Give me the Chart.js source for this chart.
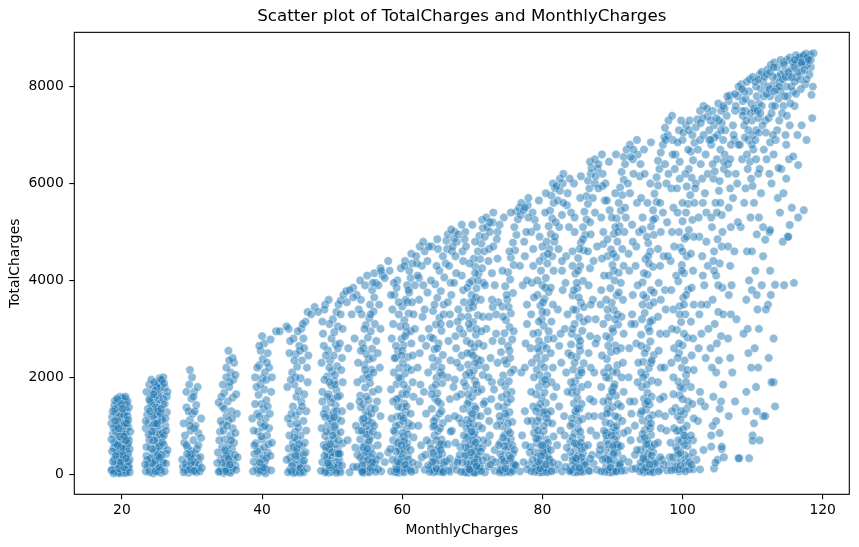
<!DOCTYPE html>
<html>
<head>
<meta charset="utf-8">
<script src="https://cdn.jsdelivr.net/npm/chart.js@4.4.1/dist/chart.umd.min.js"></script>
<style>
  html, body { margin: 0; padding: 0; background: #fff; }
  #wrap { width: 859px; height: 547px; position: relative; }
</style>
</head>
<body>
<div id="wrap"><canvas id="mycanvas"></canvas></div>
<script>
// MonthlyCharges, TotalCharges pairs, grouped by price band
var band20 = [19.7,20, 20.0,45, 19.4,70, 20.3,25, 19.9,100, 20.6,60, 19.2,140, 20.1,160, 19.6,210, 20.4,230, 19.8,290, 20.9,120, 19.3,330, 20.2,370, 19.5,420, 20.7,400, 19.9,480, 20.5,510, 19.1,560, 20.0,600, 19.7,650, 20.4,690, 19.4,740, 20.8,760, 19.9,800, 20.2,850, 19.6,900, 20.6,940, 19.3,980, 20.0,1020, 19.8,1070, 20.5,1100, 19.5,1150, 20.3,1190, 19.9,1240, 20.1,1280, 19.6,1320, 20.4,1360, 19.8,1400, 20.2,1440, 19.7,1480, 20.0,1520, 20.5,1550, 19.4,1500, 18.8,540, 18.5,1050, 18.9,320, 21.0,700, 21.1,300, 18.7,830, 19.2,1260, 20.7,1300, 20.9,980, 19.0,60, 20.8,180, 19.5,250, 20.3,450, 19.2,620, 20.1,720, 19.6,1190, 20.6,1450, 19.3,1380, 20.0,880, 19.8,35, 20.4,90, 19.1,880, 20.7,580, 19.7,390, 20.2,1000, 19.4,1100, 20.0,300, 19.9,560, 20.5,820, 19.3,470, 20.3,1230, 19.7,1600, 20.1,1580, 19.5,30, 20.6,30, 19.0,200, 20.9,430, 19.2,1000, 20.8,1200, 19.6,780, 20.4,1050, 19.0,1330, 20.7,1050, 18.6,100, 21.0,150, 19.8,180, 20.2,530];
var band25 = [24.5,20, 25.1,50, 24.0,80, 25.6,30, 24.8,120, 25.3,170, 23.9,220, 24.6,260, 25.0,310, 25.8,280, 24.3,360, 25.2,410, 24.7,460, 25.5,500, 24.1,540, 24.9,590, 25.4,640, 24.4,690, 25.0,740, 25.7,780, 24.2,820, 24.8,870, 25.3,920, 24.6,970, 25.1,1010, 23.8,1060, 24.9,1100, 25.6,1140, 24.3,1190, 25.0,1240, 25.4,1280, 24.7,1330, 25.2,1370, 24.5,1420, 25.8,1450, 24.9,1500, 25.3,1540, 24.6,1580, 25.1,1630, 25.5,1670, 24.8,1710, 25.2,1760, 25.6,1800, 24.9,1840, 25.3,1880, 25.7,1930, 25.4,1980, 23.4,950, 23.5,380, 26.2,1000, 26.4,1280, 26.0,600, 23.6,1230, 26.1,1790, 23.7,160, 26.3,420, 24.2,1610, 25.9,1560, 24.4,1000, 25.0,470, 24.7,180, 25.4,820, 24.1,330, 25.7,1120, 24.6,700, 25.2,60, 24.3,520, 25.9,240, 24.9,1380, 25.9,2000, 25.6,1950, 24.0,40, 25.5,90, 24.5,1200, 25.8,850, 24.2,1450, 25.0,1800, 24.4,1750, 25.1,1300, 24.7,1050, 25.5,1250, 23.9,700, 26.1,1450, 24.0,1500, 25.3,580, 24.8,280, 25.7,400];
var band30 = [29.5,30, 30.1,60, 29.0,90, 30.6,40, 29.8,140, 30.3,190, 29.3,240, 30.0,290, 30.8,330, 29.6,380, 30.4,430, 29.9,480, 31.2,350, 28.7,150, 30.7,120, 29.4,540, 30.2,700, 28.9,650, 30.9,850, 29.8,900, 30.5,1000, 29.7,1120, 30.1,1250, 29.2,1380, 30.6,1430, 29.9,1560, 30.3,1700, 29.6,1850, 30.0,2000, 29.7,2150, 31.3,1150, 28.8,1050, 30.4,250, 29.1,200, 30.0,420, 29.4,80, 30.5,70, 29.9,230, 30.7,520, 29.5,1300, 30.2,1600, 29.2,600, 31.0,200, 29.8,350, 30.3,950];
var band35 = [34.5,25, 35.1,50, 35.6,80, 34.2,120, 35.0,170, 34.8,220, 35.4,260, 34.1,310, 35.9,300, 34.6,360, 35.3,410, 34.9,460, 35.7,520, 34.3,560, 35.2,600, 33.7,450, 36.2,180, 36.0,650, 34.7,720, 35.5,800, 34.0,880, 35.8,950, 34.4,1020, 35.2,1100, 34.9,1200, 35.6,1300, 34.3,1400, 35.1,1500, 35.8,1580, 34.6,1680, 35.3,1800, 35.9,1950, 35.5,2100, 36.0,2300, 35.2,2550, 33.8,1480, 36.4,1250, 34.0,60, 35.0,380, 34.5,900, 35.5,30, 34.8,100, 35.8,130, 34.4,240, 35.2,320, 36.1,400, 34.7,500, 35.6,700, 35.0,1000, 34.2,1600, 35.7,1150, 35.4,1900, 34.9,2000, 35.8,2400, 34.6,1350];
var band40 = [39.5,30, 40.1,60, 40.6,110, 39.2,150, 39.9,200, 40.4,260, 39.6,320, 40.2,380, 38.9,420, 40.8,450, 39.7,510, 40.3,560, 39.1,640, 40.0,720, 40.7,800, 39.4,880, 40.1,970, 39.8,1060, 40.5,1150, 39.3,1250, 40.2,1340, 39.9,1450, 40.6,1530, 39.5,1640, 40.3,1750, 39.8,1860, 40.0,1980, 40.4,2100, 39.6,2250, 40.1,2380, 40.8,2500, 40.3,2700, 41.2,2780, 38.6,1150, 41.3,1700, 38.8,260, 41.0,950, 39.0,2000, 40.5,20, 39.4,90, 40.0,140, 39.7,240, 40.6,330, 39.3,470, 40.9,620, 39.9,780, 40.4,1000, 39.6,1200, 40.8,1400, 39.2,1800, 40.6,1950, 39.8,2550, 40.0,2850, 41.0,2200, 42.0,2950];
var band45 = [44.5,25, 45.0,50, 45.6,70, 44.0,100, 44.8,150, 45.3,200, 44.2,250, 45.8,230, 44.9,300, 45.4,360, 44.6,420, 45.1,480, 43.8,530, 45.7,580, 44.4,640, 45.0,720, 45.5,800, 44.7,880, 45.2,960, 44.1,1040, 45.9,1100, 44.8,1200, 45.3,1300, 44.4,1400, 45.6,1500, 44.9,1600, 45.2,1720, 44.6,1850, 45.5,1980, 44.3,2100, 45.0,2220, 45.7,2350, 44.8,2480, 45.3,2650, 45.9,2800, 45.6,3000, 43.6,1800, 46.3,1300, 43.9,2500, 46.1,650, 44.0,350, 45.2,110, 44.5,560, 46.4,2200, 46.2,3150, 46.5,3350, 45.8,3100, 44.7,40, 45.4,30, 44.3,180, 45.9,400, 44.9,520, 45.3,620, 44.6,760, 45.0,1050, 44.2,1250, 45.7,1400, 44.8,2000, 45.4,2550, 44.5,2800];
var band50 = [49.5,30, 50.0,50, 50.6,80, 49.1,120, 50.3,160, 49.8,210, 50.7,250, 49.4,290, 50.1,340, 49.7,390, 50.4,430, 49.2,480, 50.8,520, 49.9,570, 50.5,620, 49.5,680, 50.2,730, 49.0,790, 50.6,840, 49.8,900, 50.3,960, 49.4,1020, 50.0,1090, 50.7,1150, 49.6,1210, 50.2,1280, 49.1,1350, 50.5,1420, 49.8,1480, 50.1,1560, 49.5,1650, 50.6,1740, 49.9,1830, 50.3,1920, 49.3,2020, 50.0,2120, 50.7,2230, 49.7,2340, 50.2,2450, 49.4,2560, 50.5,2680, 49.9,2800, 50.3,2930, 50.8,3050, 50.1,3200, 50.6,3350, 50.9,3500, 51.2,3580, 48.6,1700, 48.8,600, 51.3,1100, 51.4,2400, 48.7,2900, 51.0,300, 49.2,60, 50.4,1000, 49.6,3100, 49.0,3500, 49.5,3600, 50.2,100, 49.7,140, 50.9,190, 49.3,350, 50.0,450, 49.6,520, 50.9,700, 49.2,880, 50.1,800, 49.8,1150, 50.6,1300, 49.3,1600, 50.4,1850, 49.6,2200, 50.8,2600, 51.6,3700, 52.0,3780];
var band55 = [54.5,30, 55.0,55, 55.6,90, 54.1,130, 54.9,180, 55.4,230, 54.4,280, 55.8,320, 54.8,370, 55.2,430, 54.2,490, 55.6,540, 54.7,600, 55.1,660, 54.0,720, 55.5,780, 54.6,850, 55.3,920, 54.9,990, 55.7,1060, 54.3,1130, 55.1,1210, 54.8,1290, 55.5,1370, 54.5,1450, 55.2,1530, 54.0,1620, 55.8,1700, 54.7,1790, 55.4,1880, 54.4,1970, 55.0,2060, 55.6,2160, 54.6,2260, 55.2,2370, 54.9,2480, 55.7,2590, 54.3,2700, 55.1,2820, 55.5,2950, 54.8,3080, 55.3,3220, 55.9,3360, 55.4,3500, 56.0,3650, 55.7,3800, 56.2,3950, 56.0,4150, 53.7,2300, 56.4,1500, 53.8,900, 56.3,2750, 53.6,400, 56.5,600, 54.2,3300, 54.7,3900, 55.0,4100, 55.3,40, 54.6,80, 55.9,150, 54.3,200, 55.1,300, 54.8,460, 55.7,420, 54.4,560, 55.3,700, 54.9,820, 55.8,880, 54.5,1050, 55.2,1100, 54.1,1380, 55.6,1250, 54.9,1600, 55.3,2000, 54.7,2150, 55.8,2400, 54.5,2600, 56.1,3100, 53.5,3700, 53.0,3850];
var band60 = [59.5,30, 60.0,60, 60.5,100, 59.1,150, 59.8,200, 60.3,260, 59.4,320, 60.8,380, 59.9,440, 60.4,500, 59.2,570, 60.7,640, 59.7,710, 60.2,780, 59.0,860, 60.6,940, 59.6,1020, 60.1,1100, 59.3,1190, 60.5,1280, 59.9,1370, 60.3,1460, 59.5,1560, 60.0,1660, 60.7,1760, 59.2,1860, 59.8,1970, 60.4,2080, 59.6,2190, 60.1,2300, 60.8,2420, 59.4,2540, 60.2,2660, 59.9,2790, 60.6,2920, 59.7,3050, 60.3,3180, 60.9,3320, 60.0,3460, 60.5,3600, 61.0,3750, 60.7,3900, 61.2,4050, 61.0,4200, 61.4,4350, 61.3,4550, 58.6,3400, 58.8,2100, 61.5,1900, 58.7,700, 61.3,2700, 58.9,3700, 59.3,4000, 59.8,4250, 60.4,4400, 59.0,40, 60.3,40, 59.6,90, 60.9,160, 59.3,260, 60.0,350, 59.7,480, 60.6,560, 59.4,650, 60.0,850, 60.9,1050, 59.1,1000, 59.8,1200, 60.6,1400, 59.2,1550, 60.2,1850, 59.5,2000, 60.7,2200, 59.1,2400, 60.0,2550, 60.4,2850, 59.5,3300, 60.7,3550, 58.2,4200];
var band65 = [64.5,40, 65.0,70, 65.5,110, 64.1,160, 64.8,220, 65.3,290, 64.3,360, 65.7,420, 64.9,490, 65.2,560, 64.0,640, 65.6,720, 64.6,800, 65.1,890, 64.4,980, 65.8,1060, 64.8,1150, 65.3,1250, 64.2,1350, 65.5,1450, 64.7,1560, 65.0,1670, 64.3,1780, 65.7,1880, 64.9,1990, 65.4,2100, 64.5,2220, 65.1,2340, 65.8,2460, 64.6,2580, 65.2,2700, 64.0,2830, 65.6,2960, 64.8,3090, 65.3,3230, 64.4,3370, 65.9,3500, 65.0,3640, 65.5,3780, 64.7,3920, 66.0,4060, 65.3,4200, 66.2,4350, 65.8,4500, 66.4,4650, 66.3,4820, 66.5,4950, 63.6,4400, 63.4,1250, 63.8,3000, 62.8,4300, 62.5,2500, 67.0,3700, 67.3,1800, 62.7,600, 67.1,900, 62.4,3600, 63.2,4600, 64.2,4700, 65.0,4850, 67.5,5000, 64.7,60, 65.4,50, 64.2,100, 65.9,180, 64.6,300, 65.2,400, 64.1,520, 65.8,620, 64.9,700, 65.4,950, 64.5,1100, 65.1,1500, 64.8,1850, 65.6,2200, 64.3,2400, 65.0,2600, 65.5,3100, 64.6,3500];
var band70 = [69.5,30, 70.0,50, 70.5,70, 69.1,90, 70.3,120, 69.7,170, 70.8,220, 69.3,270, 70.1,330, 69.9,390, 70.6,450, 69.4,510, 70.2,580, 69.0,650, 70.7,720, 69.6,790, 70.4,870, 69.8,950, 70.1,1030, 69.2,1120, 70.6,1210, 69.7,1300, 70.3,1400, 69.5,1500, 70.0,1600, 70.8,1700, 69.1,1810, 70.4,1920, 69.9,2030, 70.2,2140, 69.4,2260, 70.7,2380, 69.8,2500, 70.3,2620, 69.2,2750, 70.5,2880, 69.7,3010, 70.1,3140, 70.8,3280, 69.5,3420, 70.3,3560, 69.9,3700, 70.6,3840, 70.0,3990, 70.9,4140, 70.4,4290, 71.1,4440, 70.8,4600, 71.3,4760, 71.0,4920, 71.5,5080, 71.4,5250, 68.6,4600, 68.3,2200, 68.7,3800, 71.8,1500, 72.0,3000, 67.8,4800, 72.3,4400, 68.0,300, 72.2,650, 67.7,2600, 69.0,5000, 70.0,5150, 70.5,40, 69.8,60, 70.9,80, 69.2,40, 70.2,200, 69.5,130, 70.7,300, 69.0,420, 70.4,480, 69.7,620, 70.9,550, 69.3,760, 70.2,820, 69.5,1050, 70.9,1000, 69.9,1150, 70.5,1350, 69.3,1450, 70.2,1750, 69.6,2100, 70.9,2250, 69.8,2700, 70.6,3000, 69.4,3250, 70.5,3650, 69.6,3950, 70.2,4450, 71.8,4900];
var band75 = [74.5,35, 75.0,70, 75.6,110, 74.1,160, 74.9,220, 75.3,290, 74.4,360, 75.8,430, 74.8,500, 75.2,570, 74.0,650, 75.5,730, 74.6,810, 75.1,900, 74.3,990, 75.7,1080, 74.8,1180, 75.3,1280, 74.5,1380, 75.0,1480, 74.2,1590, 75.6,1700, 74.7,1810, 75.2,1920, 74.4,2040, 75.9,2160, 74.9,2280, 75.4,2400, 74.1,2520, 75.1,2650, 75.7,2780, 74.6,2910, 75.3,3040, 74.8,3180, 75.5,3320, 74.3,3460, 75.0,3600, 75.8,3740, 74.7,3880, 75.4,4020, 75.1,4170, 75.9,4320, 75.5,4470, 76.1,4620, 75.8,4780, 76.3,4940, 76.0,5100, 76.5,5260, 76.3,5420, 76.7,5500, 73.6,5000, 73.4,3300, 73.7,1400, 77.0,2100, 77.2,3900, 72.9,5200, 77.4,4800, 73.2,500, 77.1,800, 72.8,1900, 74.5,5300, 75.5,5400, 74.9,50, 75.4,40, 74.3,80, 75.9,200, 74.6,260, 75.3,380, 74.0,420, 75.7,600, 74.9,680, 74.4,760, 75.4,850, 74.0,1100, 75.1,1050, 74.7,1250, 75.5,1550, 74.9,1650, 74.1,1900, 75.5,2100, 74.6,2350, 75.3,2550, 74.2,2750, 75.9,2950, 74.4,3250, 75.2,3450, 74.9,3700, 74.3,4200, 75.3,4600, 76.9,5350];
var band80 = [79.5,40, 80.0,70, 80.5,100, 79.1,150, 79.8,210, 80.3,280, 79.3,350, 80.7,420, 79.9,490, 80.4,560, 79.2,640, 80.6,720, 79.7,800, 80.2,890, 79.0,980, 80.8,1070, 79.6,1170, 80.1,1270, 79.4,1370, 80.5,1470, 79.9,1580, 80.3,1690, 79.5,1800, 80.0,1920, 80.7,2040, 79.2,2160, 79.8,2280, 80.4,2400, 79.6,2530, 80.1,2660, 80.8,2790, 79.4,2920, 80.2,3060, 79.9,3200, 80.6,3340, 79.7,3480, 80.3,3620, 80.9,3760, 80.0,3900, 80.5,4050, 79.8,4200, 80.7,4350, 80.2,4500, 81.0,4650, 80.6,4800, 81.2,4960, 80.9,5120, 81.4,5280, 81.1,5440, 81.6,5600, 81.3,5750, 81.8,5900, 78.6,5400, 78.3,2600, 78.7,4300, 82.0,1800, 82.2,3400, 77.9,5550, 82.4,5100, 78.1,200, 82.1,600, 77.8,3100, 79.5,5650, 80.5,5800, 81.5,6000, 79.9,40, 80.9,60, 79.3,80, 80.2,130, 79.6,250, 80.9,330, 79.0,450, 80.3,400, 79.8,600, 80.8,650, 79.4,730, 80.2,1000, 79.3,1100, 80.7,1250, 79.7,1450, 80.3,1300, 79.1,1650, 80.5,1850, 79.6,2050, 80.3,2200, 79.2,2400, 80.6,2600, 79.5,2750, 80.0,3350, 79.3,3700, 80.4,3850, 79.6,4400, 80.0,4700];
var band85 = [84.5,40, 85.0,70, 85.6,110, 84.1,160, 84.9,220, 85.3,290, 84.4,360, 85.8,430, 84.8,510, 85.2,590, 84.0,670, 85.5,760, 84.6,850, 85.1,940, 84.3,1040, 85.7,1140, 84.8,1240, 85.3,1350, 84.5,1460, 85.0,1570, 84.2,1680, 85.6,1800, 84.7,1920, 85.2,2040, 84.4,2160, 85.9,2290, 84.9,2420, 85.4,2550, 84.1,2680, 85.1,2820, 85.7,2960, 84.6,3100, 85.3,3240, 84.8,3390, 85.5,3540, 84.3,3690, 85.0,3840, 85.8,3990, 84.7,4140, 85.4,4300, 85.1,4460, 85.9,4620, 85.5,4780, 86.1,4940, 85.8,5100, 86.3,5260, 86.0,5420, 86.5,5580, 86.3,5740, 86.7,5900, 86.5,6060, 86.9,6200, 87.0,6320, 83.6,5800, 83.4,4500, 83.7,2500, 87.3,1500, 87.2,3600, 82.9,6000, 87.5,5400, 83.2,800, 87.1,400, 82.8,4200, 84.5,6000, 85.5,6150, 86.8,6450, 84.9,40, 85.4,50, 84.2,90, 85.9,180, 84.7,270, 85.1,380, 84.0,460, 85.6,520, 84.9,620, 84.3,760, 85.4,880, 84.0,1000, 85.2,1100, 84.7,1300, 85.6,1450, 84.9,1700, 84.1,1900, 85.5,2150, 84.6,2300, 85.3,2650, 84.2,2900, 85.9,3150, 84.4,3400, 85.2,3650, 84.9,3950, 84.3,4300, 85.3,4650, 84.6,5000];
var band90 = [89.5,40, 90.0,70, 90.5,110, 89.1,160, 89.8,220, 90.3,290, 89.3,360, 90.7,440, 89.9,520, 90.4,600, 89.2,690, 90.6,780, 89.7,870, 90.2,970, 89.0,1070, 90.8,1170, 89.6,1280, 90.1,1390, 89.4,1500, 90.5,1620, 89.9,1740, 90.3,1860, 89.5,1990, 90.0,2120, 90.7,2250, 89.2,2380, 89.8,2520, 90.4,2660, 89.6,2800, 90.1,2940, 90.8,3090, 89.4,3240, 90.2,3390, 89.9,3540, 90.6,3690, 89.7,3840, 90.3,4000, 90.9,4160, 90.0,4320, 90.5,4480, 89.8,4640, 90.7,4800, 90.2,4960, 91.0,5120, 90.6,5280, 91.2,5440, 90.9,5600, 91.4,5760, 91.1,5920, 91.6,6080, 91.3,6240, 91.8,6400, 91.6,6550, 92.0,6700, 88.6,6200, 88.3,3500, 88.7,5000, 92.3,2000, 92.4,4200, 87.9,6300, 92.5,5800, 88.1,400, 92.2,900, 87.8,2800, 89.5,6450, 90.5,6600, 89.0,6000, 89.9,40, 90.4,55, 89.3,90, 90.9,200, 89.6,280, 90.1,400, 89.0,500, 90.8,560, 89.4,620, 90.3,720, 89.1,850, 90.5,900, 89.7,1050, 90.4,1200, 89.3,1350, 90.8,1450, 89.6,1600, 90.2,1800, 89.1,2000, 90.6,2100, 89.4,2650, 90.0,3000, 90.7,3300, 89.1,3600, 90.2,4200, 89.3,4500, 90.4,5100, 89.9,5300];
var band95 = [94.5,40, 95.0,75, 95.6,110, 94.1,160, 94.9,230, 95.3,300, 94.4,380, 95.8,460, 94.8,540, 95.2,630, 94.0,720, 95.5,810, 94.6,910, 95.1,1010, 94.3,1110, 95.7,1220, 94.8,1330, 95.3,1440, 94.5,1560, 95.0,1680, 94.2,1800, 95.6,1930, 94.7,2060, 95.2,2190, 94.4,2320, 95.9,2460, 94.9,2600, 95.4,2740, 94.1,2880, 95.1,3030, 95.7,3180, 94.6,3330, 95.3,3480, 94.8,3640, 95.5,3800, 94.3,3960, 95.0,4120, 95.8,4280, 94.7,4440, 95.4,4600, 95.1,4770, 95.9,4940, 95.5,5110, 96.1,5280, 95.8,5450, 96.3,5620, 96.0,5790, 96.5,5960, 96.3,6130, 96.7,6300, 96.5,6470, 96.9,6640, 97.2,6800, 97.4,6950, 93.6,6600, 93.4,4700, 93.7,2300, 97.3,1600, 97.5,3800, 92.9,6500, 97.7,6000, 93.2,1000, 97.1,300, 92.8,3300, 94.5,6700, 95.5,6850, 94.0,6400, 94.9,60, 95.4,50, 94.3,90, 95.9,170, 94.7,300, 95.1,420, 94.0,500, 95.6,560, 94.9,700, 94.3,830, 95.4,950, 94.0,1250, 95.2,1150, 94.7,1450, 95.6,1600, 94.9,1850, 94.1,2100, 95.5,2300, 94.6,2500, 95.3,2950, 94.2,3200, 95.9,3550, 94.4,3700, 95.2,4350, 94.9,4900, 94.3,5300, 95.0,5600];
var band100 = [99.5,60, 100.0,110, 100.6,170, 99.1,240, 99.8,320, 100.3,400, 99.3,490, 100.7,580, 99.9,680, 100.4,780, 99.2,890, 100.6,1000, 99.7,1120, 100.2,1240, 99.0,1370, 100.8,1500, 99.6,1630, 100.1,1770, 99.4,1910, 100.5,2050, 99.9,2200, 100.3,2350, 99.5,2500, 100.0,2660, 100.7,2820, 99.2,2980, 99.8,3140, 100.4,3300, 99.6,3470, 100.1,3640, 100.8,3810, 99.4,3980, 100.2,4150, 99.9,4320, 100.6,4500, 99.7,4680, 100.3,4860, 100.9,5040, 100.0,5220, 100.5,5400, 100.8,5580, 101.1,5760, 100.6,5940, 101.3,6120, 100.9,6300, 101.5,6480, 101.2,6660, 101.7,6840, 101.4,7000, 101.9,7160, 102.1,7320, 98.6,6900, 98.3,4400, 98.7,2000, 102.3,2600, 102.4,4900, 97.9,7000, 102.6,6400, 98.1,200, 102.2,1100, 97.8,5200, 99.5,7100, 100.5,7200, 99.0,6600, 100.0,6900, 101.5,100, 102.5,100, 99.4,100, 100.4,250, 99.7,450, 100.9,350, 99.4,700, 100.2,600, 99.5,900, 100.6,1350, 99.3,1200, 100.0,1550, 99.7,1800, 100.7,2150, 99.3,2400, 100.2,2900, 99.6,3300, 100.5,3700, 99.1,4100, 100.0,4600, 99.5,5000, 100.0,5600, 99.6,6100];
var band105 = [104.5,120, 105.0,300, 105.6,520, 104.1,800, 104.8,1100, 105.3,1350, 104.4,1600, 105.8,1850, 104.8,2100, 105.2,2350, 104.0,2600, 105.5,2850, 104.6,3100, 105.1,3350, 104.3,3600, 105.7,3850, 104.8,4100, 105.3,4350, 104.5,4600, 105.0,4850, 104.2,5100, 105.6,5350, 104.7,5600, 105.2,5850, 104.4,6100, 105.9,6300, 104.9,6500, 105.4,6700, 105.8,6900, 106.1,7100, 105.6,7250, 106.3,7400, 106.0,7550, 106.6,7700, 106.8,7820, 103.6,7400, 103.4,5400, 103.7,3000, 107.0,3900, 107.2,5700, 102.9,7350, 107.4,6900, 103.2,1400, 107.1,2100, 102.8,4500, 106.5,6200, 104.1,6800, 105.0,7000, 105.9,350, 105.3,850, 105.6,570, 104.7,240, 104.1,570, 104.5,7200, 105.5,7500, 104.0,7300, 103.8,7100, 104.6,6950, 105.2,7300, 106.0,6600, 104.3,6400, 105.3,6050, 104.9,5400, 105.6,4700, 104.5,4200, 105.8,3300, 104.2,2200];
var band110 = [109.5,330, 110.0,800, 110.6,1300, 109.1,1700, 109.8,2200, 110.3,2600, 109.3,3000, 110.7,3400, 109.9,3800, 110.4,4200, 109.2,4600, 110.6,4950, 109.7,5300, 110.2,5600, 109.0,5900, 110.8,6200, 109.6,6450, 110.1,6700, 109.4,6900, 110.5,7100, 109.9,7300, 110.3,7500, 110.9,7650, 110.6,7800, 111.2,7950, 111.0,8250, 108.6,7700, 108.3,5100, 108.7,2900, 111.5,4500, 111.8,7300, 107.9,7800, 112.0,6500, 108.1,330, 112.2,3500, 107.8,6000, 109.0,7500, 110.0,7000, 111.3,7600, 108.8,7200, 112.4,5000, 113.0,2800, 110.0,690, 110.2,1050, 111.5,1200, 108.0,330, 109.5,7900, 110.5,8000, 109.0,7750, 111.5,8100, 108.5,7500, 109.8,7650, 110.8,7350, 108.2,6800, 109.3,6300, 110.0,5950, 111.8,4840, 109.5,4000, 110.9,3000];
var band115 = [114.5,3900, 115.0,4900, 115.6,5500, 114.1,6300, 114.8,6800, 115.3,7200, 114.4,7600, 115.8,7900, 114.8,8000, 115.2,8200, 114.0,7900, 115.5,8350, 116.1,8450, 116.6,8500, 117.1,8600, 117.6,8680, 118.2,8660, 116.3,8200, 117.0,8300, 117.5,8050, 118.3,8400, 118.6,8000, 118.5,7350, 116.0,7600, 115.9,3950, 116.5,5300, 113.5,8200, 113.8,7300, 113.0,8050, 112.5,7800, 114.3,4800, 115.2,6500, 116.4,7000, 117.3,5450, 113.2,1400, 113.0,1900, 112.7,1900, 111.8,1200, 111.0,700, 113.6,5700, 114.7,7000, 116.8,8150, 117.8,8450, 112.8,7600, 113.3,6900, 116.0,8400, 118.4,7830, 116.5,6380, 115.8,6560, 113.7,6320, 113.2,3910, 114.4,5800, 115.3,5145, 115.1,4900, 118.7,8690, 114.5,8300, 113.9,8100, 115.5,8000, 116.8,8600, 117.5,8500, 112.2,8000, 112.5,5040, 114.0,8250, 115.0,7800];
// short-tenure customers between the bands, along the bottom
var lowStrip = [52.5,40, 53.0,150, 57.0,60, 57.5,250, 58.0,450, 61.8,80, 62.3,200, 62.8,350, 63.2,90, 66.8,50, 67.3,180, 67.8,90, 68.2,400, 71.8,40, 72.3,160, 72.8,300, 73.2,70, 76.8,60, 77.3,250, 77.8,100, 78.2,450, 81.8,90, 82.3,200, 82.8,60, 83.2,350, 86.8,70, 87.3,220, 87.8,90, 88.2,500, 91.8,80, 92.3,250, 92.8,110, 93.2,400, 96.8,100, 97.3,200, 97.8,80, 98.2,350, 66.0,250, 71.0,120, 76.0,200, 81.0,300, 86.0,250, 91.0,180, 96.0,260, 69.0,380, 74.0,90, 79.0,150, 84.0,80, 89.0,330, 94.0,240, 99.0,150, 101.0,100, 102.0,300, 103.0,500, 101.5,700];
var lowDense = [44.2,60, 45.5,130, 46.0,280, 44.8,380, 45.9,40, 49.0,40, 50.5,130, 51.0,70, 49.6,180, 50.9,410, 49.1,560, 54.3,40, 55.5,130, 56.1,220, 54.0,350, 55.0,520, 56.3,300, 59.2,50, 60.6,120, 61.1,90, 59.5,230, 60.9,300, 59.1,470, 60.3,690, 63.9,50, 64.9,110, 65.9,40, 66.3,270, 64.4,440, 65.5,620, 63.7,180, 68.9,40, 69.7,80, 70.3,30, 71.1,150, 69.4,210, 70.8,360, 69.1,550, 70.1,690, 71.4,550, 73.9,40, 74.7,120, 75.8,60, 76.2,180, 74.2,300, 75.5,330, 74.6,580, 76.0,500, 78.9,50, 79.7,120, 80.6,40, 81.1,180, 79.4,260, 80.7,520, 79.1,740, 80.1,460, 83.9,60, 84.7,150, 85.8,50, 86.2,200, 84.3,290, 85.6,350, 84.6,640, 86.0,560, 88.9,50, 89.7,140, 90.6,60, 91.1,210, 89.4,300, 90.7,620, 89.1,800, 90.1,580, 93.9,60, 94.7,130, 95.8,40, 96.2,230, 94.4,330, 95.6,390, 94.6,760, 96.0,620, 98.9,100, 99.7,180, 100.4,60, 101.0,240, 99.4,420, 100.7,700, 99.1,560, 100.1,930, 19.5,120, 20.3,140, 19.8,250, 20.1,400, 24.8,60, 25.4,140, 24.3,230, 25.1,380, 29.7,100, 30.3,70, 34.8,60, 35.4,200, 39.7,70, 40.3,130];
// wider edges of the low-price bands
var edge20 = [18.5,80, 18.7,260, 18.6,470, 18.9,650, 18.5,720, 18.8,960, 18.6,1180, 18.9,1420, 19.0,1520, 18.7,1300, 21.1,520, 20.9,640, 21.2,880, 20.9,1120, 21.0,1380, 20.8,1500, 21.1,40, 20.9,260, 18.8,20, 19.1,380, 20.6,330, 19.4,600, 20.3,780, 19.0,1100, 20.5,1600, 19.3,1560, 19.9,1450, 20.1,1350, 19.5,950, 20.6,700];
var edge25 = [23.4,60, 23.6,300, 23.5,560, 23.8,820, 23.4,1100, 23.7,1350, 23.9,1550, 23.5,1700, 26.1,60, 26.3,220, 26.0,800, 26.2,1150, 26.4,1600, 26.0,1880, 26.5,1700, 23.9,1850, 24.2,1950, 24.6,1900, 23.3,200, 26.5,500, 24.5,1650, 25.0,1050, 24.3,880, 25.8,650, 25.4,350, 24.0,1300, 26.3,900, 25.6,1350];
var edge30to45 = [28.8,40, 31.1,60, 31.4,130, 28.6,300, 29.3,420, 30.9,600, 31.3,750, 29.0,800, 29.7,1000, 30.4,1300, 30.8,1800, 29.2,1700, 33.8,50, 33.6,230, 36.3,90, 36.5,350, 33.9,700, 36.2,850, 34.1,1100, 36.3,1650, 34.4,1850, 34.9,2200, 35.3,2350, 36.2,2050, 38.7,60, 38.9,600, 41.3,80, 41.2,380, 41.4,650, 38.8,900, 41.1,1250, 39.0,1450, 41.4,2000, 39.3,2200, 40.7,2300, 39.6,2650, 43.7,40, 43.5,300, 46.4,120, 46.2,450, 43.9,800, 46.3,900, 43.7,1150, 46.0,1650, 44.1,1950, 46.5,1900, 44.6,2350, 46.0,2600, 44.0,2750, 45.1,2950, 46.6,2450, 43.8,3000];
// filling between the bands for the higher prices
var fill50 = [48.4,70, 48.6,250, 48.9,380, 48.5,950, 48.8,1250, 48.6,1500, 48.9,1950, 48.5,2300, 48.8,2650, 48.6,3150, 48.9,3400, 51.2,40, 51.4,180, 51.1,420, 51.5,640, 51.2,870, 51.4,1300, 51.1,1620, 51.5,1900, 51.3,2150, 51.1,2700, 51.5,3000, 51.2,3300, 49.1,2450, 50.4,2050, 49.6,1900, 50.8,1600, 49.0,1180, 50.3,1180, 49.7,620, 50.9,430, 49.4,230, 50.6,30, 52.2,700, 52.6,1400, 52.3,2600, 52.8,3300, 52.1,3550, 53.4,1000, 53.6,1900, 53.2,2800, 53.5,150, 53.3,550, 53.8,3400, 56.6,100, 56.8,380, 56.5,800, 56.9,1200, 56.6,1750, 56.8,2200, 56.5,2500, 56.9,3000, 56.7,3500, 56.6,3900, 57.2,4100, 56.9,4250, 54.1,2550, 55.9,2100, 54.6,3000, 55.5,3300, 54.1,3600, 55.8,3950, 54.5,1150, 56.0,1000, 54.2,900, 55.7,250, 54.3,60, 56.2,50, 53.9,1500, 56.1,1350];
var fill60 = [58.4,60, 58.6,300, 58.3,520, 58.8,900, 58.5,1150, 58.7,1500, 58.4,1750, 58.9,2400, 58.5,2800, 58.7,3100, 58.4,3700, 58.8,3950, 61.3,50, 61.5,240, 61.2,500, 61.6,760, 61.4,1000, 61.2,1250, 61.6,1600, 61.3,2150, 61.5,2450, 61.2,2950, 61.6,3300, 61.4,3550, 61.8,3900, 62.1,4350, 62.3,1000, 62.6,1850, 62.2,2200, 62.9,3250, 62.4,4050, 63.3,400, 63.5,700, 63.1,1700, 63.7,2100, 63.4,2650, 63.2,3400, 63.6,3750, 63.8,4700, 66.6,80, 66.8,320, 66.5,620, 66.9,880, 66.6,1150, 66.8,1550, 66.5,2000, 66.9,2350, 66.6,2750, 66.8,3100, 66.5,3550, 66.9,3950, 66.7,4300, 67.1,4600, 67.4,4850, 67.6,2850, 67.4,3950, 59.1,2650, 60.5,3050, 59.5,3550, 60.9,3800, 59.2,3850, 60.3,4300, 59.9,2450, 60.6,1650, 59.4,1400, 60.2,1150, 59.9,600, 60.4,200, 59.2,100, 60.8,820, 64.1,4000, 65.9,3300, 64.4,2800, 65.7,2050, 64.2,1650, 65.6,1300, 64.6,1000, 65.5,500, 64.3,250, 65.8,50, 64.9,4300, 65.1,4650];
var fill70 = [68.4,50, 68.6,240, 68.3,560, 68.8,800, 68.5,1050, 68.7,1350, 68.4,1650, 68.8,1900, 68.5,2450, 68.7,2900, 68.4,3250, 68.8,3550, 68.5,4100, 68.7,4400, 68.9,4850, 71.3,60, 71.5,280, 71.2,470, 71.6,700, 71.4,950, 71.2,1200, 71.6,1450, 71.3,1750, 71.5,2050, 71.2,2350, 71.6,2650, 71.3,2950, 71.5,3250, 71.2,3600, 71.6,3950, 71.4,4250, 71.7,4600, 72.1,5100, 72.5,800, 72.7,1550, 72.3,2000, 72.9,2750, 72.4,3250, 72.8,4150, 73.3,250, 73.5,1000, 73.1,1750, 73.6,2300, 73.4,2900, 73.2,3900, 73.6,4450, 73.9,5150, 69.1,4700, 70.4,4800, 69.6,4350, 70.8,4000, 69.3,3850, 70.1,3450, 69.5,3100, 70.9,2700, 69.3,2500, 70.4,2300, 69.1,2050, 70.6,1850, 69.4,1650, 70.0,1250, 69.2,950, 70.5,650, 69.8,450, 70.3,250, 69.6,100, 70.6,160, 69.9,880, 70.1,2450, 69.8,3550, 70.4,4150, 67.9,250, 67.6,650, 67.8,1600, 67.5,1950, 67.9,3150, 67.7,4150, 72.6,200, 72.2,1300, 72.9,3450, 72.4,4650, 73.8,600, 73.7,3550, 73.5,4850, 68.2,3000, 71.9,2200, 73.9,1200, 68.1,1150, 72.0,350];
var fill80 = [78.4,60, 78.6,300, 78.3,560, 78.8,850, 78.5,1100, 78.7,1400, 78.4,1700, 78.8,2000, 78.5,2300, 78.7,2900, 78.4,3300, 78.8,3650, 78.5,3950, 78.7,4650, 78.4,5000, 78.9,5250, 81.3,60, 81.5,240, 81.2,500, 81.6,780, 81.4,1050, 81.2,1300, 81.6,1600, 81.3,1900, 81.5,2200, 81.2,2500, 81.6,2800, 81.3,3150, 81.5,3500, 81.2,3850, 81.6,4200, 81.4,4500, 81.7,4800, 81.9,5200, 82.2,5650, 82.6,900, 82.7,2300, 82.4,2650, 82.9,3800, 82.3,4650, 82.8,5350, 83.3,150, 83.5,550, 83.1,1200, 83.6,1700, 83.4,2100, 83.2,3000, 83.6,3300, 83.3,3950, 83.8,5100, 83.5,5550, 83.9,6100, 86.6,70, 86.8,320, 86.5,600, 86.9,900, 86.6,1200, 86.8,1550, 86.5,1850, 86.9,2200, 86.6,2500, 86.8,2850, 86.5,3200, 86.9,3500, 86.6,3900, 86.8,4250, 86.5,4600, 86.9,4950, 87.2,5700, 87.5,6000, 87.4,2100, 87.6,3200, 87.3,4400, 87.7,800, 79.2,5100, 80.4,5400, 79.6,4900, 80.8,4550, 79.3,4000, 80.1,3550, 79.5,3150, 80.9,2950, 79.3,2600, 80.4,1950, 79.1,1300, 80.6,1150, 79.4,900, 80.0,600, 79.8,380, 80.5,200, 84.1,5400, 85.4,5700, 84.6,5300, 85.8,4850, 84.3,4600, 85.1,4200, 84.5,3800, 85.9,3450, 84.3,3000, 85.4,2750, 84.1,2450, 85.6,2100, 84.4,1800, 85.0,1350, 84.2,1150, 85.5,650, 84.8,330, 85.3,130, 77.6,600, 77.9,1100, 77.5,2200, 77.8,3500, 77.5,4500, 77.7,5000];
var fill90 = [88.4,60, 88.6,300, 88.3,600, 88.8,900, 88.5,1200, 88.7,1500, 88.4,1800, 88.8,2100, 88.5,2450, 88.7,3100, 88.4,3800, 88.8,4100, 88.5,4450, 88.7,4750, 88.4,5300, 88.9,5650, 88.6,5950, 91.3,70, 91.5,320, 91.2,580, 91.6,850, 91.4,1100, 91.2,1400, 91.6,1700, 91.3,2000, 91.5,2300, 91.2,2600, 91.6,2900, 91.3,3250, 91.5,3600, 91.2,3950, 91.6,4300, 91.4,4650, 91.7,5000, 91.9,5300, 92.2,6000, 92.6,700, 92.7,1250, 92.4,2600, 92.9,3700, 92.3,4550, 92.8,5150, 93.3,120, 93.5,500, 93.1,1500, 93.6,1900, 93.4,2700, 93.2,3100, 93.6,3900, 93.3,4300, 93.8,5000, 93.5,5600, 93.9,6150, 96.6,60, 96.8,350, 96.5,650, 96.9,950, 96.6,1250, 96.8,1550, 96.5,1900, 96.9,2200, 96.6,2550, 96.8,2900, 96.5,3250, 96.9,3600, 96.6,3950, 96.8,4300, 96.5,4650, 96.9,5000, 97.2,5400, 97.5,6400, 97.4,2200, 97.6,3400, 97.3,4500, 97.7,900, 89.2,5650, 90.4,5800, 89.6,5450, 90.8,5000, 89.3,4850, 90.1,4550, 89.5,4100, 90.9,3750, 89.3,3400, 90.4,3200, 89.1,2850, 90.6,2550, 89.4,2200, 90.0,1700, 89.2,1250, 90.6,1000, 89.9,800, 90.2,440, 94.1,5700, 95.4,6000, 94.6,6200, 95.8,5250, 94.3,5050, 95.1,4500, 94.5,4150, 95.9,3750, 94.3,3500, 95.4,3150, 94.1,2650, 95.6,2350, 94.4,2000, 95.0,1500, 94.2,1300, 95.5,1050, 94.8,620, 95.3,200];
var fill100 = [98.4,80, 98.6,350, 98.3,650, 98.8,950, 98.5,1300, 98.7,1650, 98.4,2300, 98.8,2600, 98.5,3000, 98.7,3400, 98.4,3800, 98.8,4700, 98.5,5000, 98.7,5500, 98.4,5900, 98.9,6300, 98.6,6600, 101.3,200, 101.5,450, 101.2,800, 101.6,1150, 101.4,1450, 101.2,1800, 101.6,2150, 101.3,2450, 101.5,2800, 101.2,3150, 101.6,3500, 101.3,3850, 101.5,4200, 101.2,4550, 101.6,4900, 101.4,5250, 101.7,5600, 101.9,6000, 102.2,6700, 102.6,1500, 102.7,2900, 102.4,3300, 102.9,4100, 102.3,5300, 102.8,6100, 102.5,6900, 103.3,2400, 103.5,3500, 103.1,3900, 103.6,4300, 103.4,4800, 103.2,5800, 103.6,6200, 103.3,6600, 103.8,6900, 106.6,1200, 106.8,2400, 106.5,2800, 106.9,3300, 106.6,3700, 106.8,4300, 106.5,4700, 106.9,5100, 106.6,5500, 106.8,5900, 106.5,6400, 106.9,6800, 107.2,7200, 107.5,7500, 107.4,4600, 107.6,6200, 107.3,7000, 99.2,5900, 100.4,6200, 99.6,6450, 100.8,6700, 99.3,6850, 100.1,7050, 99.8,7300, 100.9,7100, 101.0,7300, 99.3,5400, 100.6,4900, 99.9,4200, 100.2,3500, 99.5,2700, 100.5,1900, 99.8,1300, 100.2,800, 105.1,7650, 105.8,7600, 104.3,7500, 106.4,7800, 104.8,7350, 105.5,7100, 104.0,6900, 105.9,6450, 104.6,6250, 105.4,5600, 104.1,5300, 105.7,5000, 104.4,4400, 105.1,3900, 104.9,2700, 105.5,1500, 104.3,1000];
var fill110 = [108.4,8050, 108.8,7900, 109.2,8100, 109.6,8150, 110.0,8200, 110.4,8100, 110.8,8150, 111.3,8300, 111.7,8200, 112.1,8350, 112.6,8450, 113.1,8500, 113.5,8400, 114.0,8550, 114.4,8500, 114.9,8550, 115.3,8600, 115.7,8500, 116.2,8650, 116.6,8600, 117.3,8650, 117.8,8600, 118.3,8550, 108.6,7400, 109.1,7300, 109.7,7450, 110.2,7550, 110.7,7500, 111.1,7450, 111.6,7800, 112.0,7850, 112.4,7950, 112.9,8200, 113.4,7950, 113.8,8000, 114.3,8150, 114.7,8200, 115.1,8300, 115.6,8200, 116.0,8100, 116.5,8300, 117.0,8450, 117.4,8350, 118.1,8250, 108.9,6950, 109.4,7100, 109.9,6800, 110.4,6900, 110.9,7050, 111.4,7200, 111.9,7050, 112.3,7350, 112.7,7450, 113.2,7600, 113.7,7750, 114.2,7450, 114.6,7800, 115.4,7650, 116.2,7850, 116.9,7950, 117.7,8150, 108.5,6500, 109.2,6600, 110.5,6500, 111.0,6300, 111.6,6700, 112.5,6850, 113.5,7100, 114.9,7400, 109.8,6100, 111.2,5800, 112.4,6200, 113.0,6600, 108.8,5600, 110.9,5300, 111.5,5100, 113.9,5400, 109.9,4600, 110.6,3700, 109.1,3600, 111.3,3900, 109.4,2500, 110.8,2200, 109.0,1300, 110.5,1800, 111.9,3400, 112.6,3700, 114.8,6100, 117.0,7200, 117.7,6900];
// points between the bands at mid heights
var midFill = [62.5,1500, 62.8,2800, 63.0,3900, 62.2,4100, 67.5,1200, 67.8,2300, 68.0,3400, 67.6,4500, 67.2,4700, 72.4,1100, 72.6,2400, 72.8,3600, 73.0,4700, 72.5,5000, 77.5,1300, 77.6,2700, 77.8,4000, 78.0,5300, 77.3,5450, 82.4,1400, 82.6,2900, 82.8,4400, 83.0,5600, 82.5,5850, 87.4,1200, 87.6,2700, 87.8,4700, 88.0,5900, 87.6,6150, 92.5,1500, 92.7,3100, 92.9,4800, 93.0,6200, 92.6,6550, 97.5,1200, 97.7,2900, 97.9,4500, 98.0,6200, 97.6,6900, 102.5,1700, 102.7,3500, 102.9,5600, 103.0,7000, 102.6,7250, 107.5,1500, 107.7,3200, 107.9,5200, 108.0,6800, 107.6,7600, 112.5,4200, 112.7,6000, 112.9,7000, 113.1,7900, 112.3,2400, 61.8,3000, 66.8,3300, 71.8,3900, 76.8,4300, 81.8,4900, 86.8,5200, 91.8,5500, 96.8,5600, 101.8,5900, 106.8,6500];
// long-tenure customers along the upper edge
var edge = [42.5,2950, 43.5,3050, 47.0,3300, 47.5,3450, 48.0,3350, 52.5,3800, 53.0,3650, 54.0,4000, 57.0,4200, 57.5,4050, 58.0,4400, 62.0,4500, 62.5,4700, 63.0,4800, 67.0,5050, 68.0,4950, 68.5,5150, 72.0,5300, 72.5,5200, 73.0,5400, 77.0,5600, 77.5,5500, 78.0,5700, 82.0,5950, 82.5,6100, 83.0,6200, 87.5,6500, 88.0,6400, 88.5,6600, 92.5,6800, 93.0,6700, 93.5,6900, 97.5,7150, 98.0,7300, 98.5,7400, 102.5,7500, 103.0,7600, 103.5,7550, 107.5,7850, 108.0,8000, 108.5,7950, 112.0,8250, 112.5,8300, 113.0,8400, 114.5,8450, 116.0,8550, 117.0,8500, 118.0,8550];

var xTicks = [20, 40, 60, 80, 100, 120];
var yTicks = [0, 2000, 4000, 6000, 8000];

var allBands = [band20, band25, band30, band35, band40, band45, band50, band55, band60, band65,
    band70, band75, band80, band85, band90, band95, band100, band105, band110, band115,
    lowStrip, lowDense, edge20, edge25, edge30to45, fill50, fill60, fill70, fill80, fill90,
    fill100, fill110, midFill, edge];

var points = [];
for (var b in allBands) {
    var arr = allBands[b];
    for (var i = 0; i < arr.length; i += 2) {
        points.push({ x: arr[i], y: arr[i + 1] });
    }
}

var font = "'DejaVu Sans', sans-serif";

// box round the plot, like the matplotlib spines
var framePlugin = {
    id: 'frame',
    afterDraw: function(chart) {
        var a = chart.chartArea;
        var c = chart.ctx;
        c.save();
        c.strokeStyle = '#000';
        c.lineWidth = 1.1;
        c.strokeRect(a.left, a.top, a.right - a.left, a.bottom - a.top);
        c.restore();
    }
};

var ctx = document.getElementById('mycanvas');

var ScatterChart = new Chart(ctx, {
    type: 'scatter',
    data: {
        datasets: [{
            label: 'TotalCharges',
            data: points,
            pointRadius: 4.2,
            pointBorderWidth: 0.7,
            backgroundColor: 'rgba(31, 119, 180, 0.5)',
            borderColor: 'rgba(255, 255, 255, 0.5)'
        }]
    },
    options: {
        responsive: true,
        maintainAspectRatio: false,
        animation: false,
        events: [],
        layout: { padding: { left: 0, right: 9.7, top: 0, bottom: 0 } },
        plugins: {
            legend: { display: false },
            tooltip: { enabled: false },
            title: {
                display: true,
                text: 'Scatter plot of TotalCharges and MonthlyCharges',
                fullSize: false,
                color: '#000',
                font: { family: font, size: 16.7, weight: 'normal' },
                padding: { top: 7, bottom: 5.3 }
            }
        },
        scales: {
            x: {
                type: 'linear',
                min: 13.2,
                max: 123.8,
                afterBuildTicks: function(scale) {
                    scale.ticks = xTicks.map(function(v) { return { value: v }; });
                },
                afterFit: function(scale) { scale.height = 52.7; },
                ticks: {
                    color: '#000',
                    padding: 3,
                    maxRotation: 0,
                    font: { family: font, size: 13.9 },
                    callback: function(v) { return String(v); }
                },
                grid: { display: true, drawOnChartArea: false, drawTicks: true, tickLength: 5, color: '#000', lineWidth: 1.1 },
                border: { display: false },
                title: {
                    display: true,
                    text: 'MonthlyCharges',
                    color: '#000',
                    font: { family: font, size: 13.9 },
                    padding: { top: 0, bottom: 8.5 }
                }
            },
            y: {
                type: 'linear',
                min: -414,
                max: 9120,
                afterBuildTicks: function(scale) {
                    scale.ticks = yTicks.map(function(v) { return { value: v }; });
                },
                afterFit: function(scale) { scale.width = 74.3; },
                ticks: {
                    color: '#000',
                    padding: 5.5,
                    font: { family: font, size: 13.9 },
                    callback: function(v) { return String(v); }
                },
                grid: { display: true, drawOnChartArea: false, drawTicks: true, tickLength: 5, color: '#000', lineWidth: 1.1 },
                border: { display: false },
                title: {
                    display: true,
                    text: 'TotalCharges',
                    color: '#000',
                    font: { family: font, size: 13.9 },
                    padding: { top: 7.5, bottom: 0 }
                }
            }
        }
    },
    plugins: [framePlugin]
});
</script>
</body>
</html>
